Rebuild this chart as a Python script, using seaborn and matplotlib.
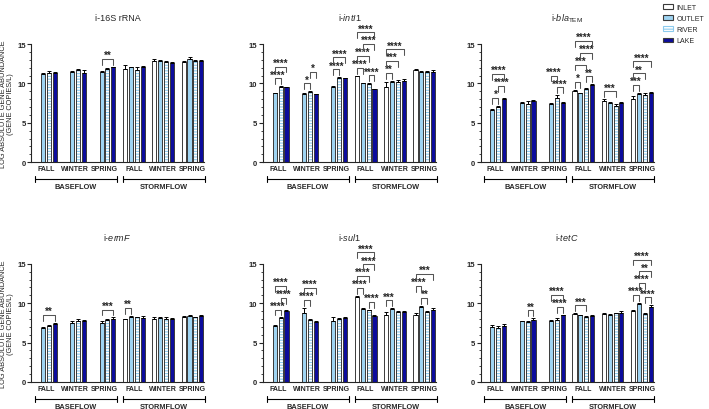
import numpy as np
import pandas as pd
import seaborn as sns
import matplotlib.pyplot as plt
from matplotlib.patches import Patch, Rectangle
from matplotlib.ticker import MultipleLocator
import matplotlib.transforms as mtrans

sns.set_style("ticks")
plt.rcParams['font.family'] = ['Liberation Sans', 'DejaVu Sans']
plt.rcParams['mathtext.fontset'] = 'custom'
plt.rcParams['mathtext.rm'] = 'Liberation Sans'
plt.rcParams['mathtext.it'] = 'Liberation Sans:italic'
plt.rcParams['hatch.linewidth'] = 0.8

flows = ["BASEFLOW", "STORMFLOW"]
seasons = ["FALL", "WINTER", "SPRING"]
sites = ["INLET", "OUTLET", "RIVER", "LAKE"]
nan = np.nan

titles = ["i-16S rRNA", r"i-$\mathit{intI}$1", r"i-$\mathit{bla}_{\mathrm{TEM}}$",
          r"i-$\mathit{ermF}$", r"i-$\mathit{sul}$1", r"i-$\mathit{tetC}$"]

# rows: BASEFLOW FALL, WINTER, SPRING, STORMFLOW FALL, WINTER, SPRING ; cols: INLET, OUTLET, RIVER, LAKE
v_16s = [[nan, 11.2, 11.3, 11.3], [nan, 11.5, 11.7, 11.3], [nan, 11.5, 11.8, 12.05],
         [11.8, 12.05, 11.7, 12.05], [12.8, 12.8, 12.7, 12.6], [12.75, 13.1, 12.85, 12.9]]
e_16s = [[0, .15, .25, .2], [0, .1, .1, .35], [0, .05, .2, .1],
         [.6, .1, .4, .15], [.25, .15, .1, .1], [.05, .2, .1, .1]]
v_int = [[nan, 8.75, 9.5, 9.5], [nan, 8.6, 8.9, 8.6], [nan, 9.6, 10.7, 10.65],
         [10.9, 10.05, 9.95, 9.25], [9.6, 10.15, 10.2, 10.35], [11.7, 11.5, 11.5, 11.4]]
e_int = [[0, .1, .15, .1], [0, .15, .1, .1], [0, .05, .1, .1],
         [.1, .05, .1, .1], [.6, .2, .3, .2], [.1, .05, .1, .3]]
v_bla = [[nan, 6.6, 7.05, 8.0], [nan, 7.5, 7.4, 7.75], [nan, 7.4, 8.2, 7.5],
         [9.1, 8.75, 9.3, 9.8], [7.8, 7.5, 7.2, 7.5], [8.0, 8.65, 8.55, 8.8]]
e_bla = [[0, .1, .15, .15], [0, .1, .4, .1], [0, .15, .3, .15],
         [.1, .1, .1, .1], [.2, .2, .25, .2], [.35, .15, .25, .1]]
v_erm = [[nan, 6.8, 7.05, 7.3], [nan, 7.55, 7.75, 7.7], [nan, 7.55, 7.85, 8.05],
         [7.95, 8.3, 8.2, 8.15], [8.05, 8.15, 8.0, 7.95], [8.2, 8.4, 8.2, 8.35]]
e_erm = [[0, .2, .15, .2], [0, .15, .2, .15], [0, .15, .15, .15],
         [.1, .1, .1, .2], [.25, .1, .25, .15], [.15, .1, .1, .1]]
v_sul = [[nan, 7.15, 8.1, 9.05], [nan, 8.75, 7.9, 7.65], [nan, 7.7, 8.05, 8.1],
         [10.85, 9.3, 9.1, 8.35], [8.55, 9.25, 8.9, 8.9], [8.55, 9.5, 8.9, 9.2]]
e_sul = [[0, .05, .1, .1], [0, .7, .1, .1], [0, .5, .1, .1],
         [.1, .1, .1, .1], [.3, .1, .15, .15], [.15, .2, .15, .2]]
v_tet = [[nan, 6.95, 6.85, 7.15], [nan, 7.7, 7.6, 7.9], [nan, 7.8, 7.9, 8.45],
         [8.65, 8.45, 8.25, 8.4], [8.65, 8.55, 8.7, 8.75], [8.95, 9.95, 8.65, 9.5]]
e_tet = [[0, .25, .3, .15], [0, .1, .1, .2], [0, .1, .25, .1],
         [.1, .1, .1, .1], [.1, .1, .1, .2], [.25, .1, .1, .25]]

# significance: (group index, site i, site j, label)
s_16s = [(2, 1, 3, "**")]
s_int = [(0, 1, 2, "****"), (0, 1, 3, "****"), (1, 1, 2, "*"), (1, 2, 3, "*"),
         (2, 1, 2, "****"), (2, 1, 3, "****"),
         (3, 2, 3, "****"), (3, 0, 1, "****"), (3, 0, 2, "****"), (3, 1, 3, "****"), (3, 0, 3, "****"),
         (4, 0, 1, "**"), (4, 0, 2, "***"), (4, 0, 3, "****")]
s_bla = [(0, 1, 2, "*"), (0, 2, 3, "****"), (0, 1, 3, "****"),
         (2, 2, 3, "****"), (2, 1, 2, "****"),
         (3, 0, 1, "*"), (3, 2, 3, "**"), (3, 0, 2, "***"), (3, 1, 3, "****"), (3, 0, 3, "****"),
         (4, 0, 2, "***"),
         (5, 0, 1, "***"), (5, 0, 2, "**"), (5, 0, 3, "****")]
s_erm = [(0, 1, 3, "**"), (2, 1, 3, "***"), (3, 0, 1, "**")]
s_sul = [(0, 1, 2, "****"), (0, 2, 3, "****"), (0, 1, 3, "****"),
         (1, 1, 2, "****"), (1, 1, 3, "****"),
         (3, 2, 3, "****"), (3, 0, 1, "****"), (3, 0, 2, "****"), (3, 1, 3, "****"), (3, 0, 3, "****"),
         (4, 0, 1, "***"),
         (5, 1, 2, "**"), (5, 0, 1, "****"), (5, 0, 3, "***")]
s_tet = [(1, 2, 3, "**"), (2, 2, 3, "****"), (2, 1, 3, "****"), (3, 0, 2, "***"),
         (5, 0, 1, "****"), (5, 2, 3, "****"), (5, 1, 2, "****"), (5, 1, 3, "**"), (5, 0, 3, "****")]

panels = [(v_16s, e_16s, s_16s), (v_int, e_int, s_int), (v_bla, e_bla, s_bla),
          (v_erm, e_erm, s_erm), (v_sul, e_sul, s_sul), (v_tet, e_tet, s_tet)]

colors = {"INLET": "#ffffff", "OUTLET": "#9fd4f2", "RIVER": "#ffffff", "LAKE": "#0c0c9c"}
edge = "#3a3a3a"
hatch_col = "#8ccbee"
keys = [f"{f} {s}" for f in flows for s in seasons]

fig = plt.figure(figsize=(7.09, 4.10), dpi=100)
lefts = [0.044, 0.371, 0.678]
bottoms = [0.602, 0.066]
W, H = 0.244, 0.288


def draw_panel(ax, vals, errs, sigs, title, first_col):
    rows = []
    for gi, key in enumerate(keys):
        for si, site in enumerate(sites):
            if not np.isnan(vals[gi][si]):
                rows.append({"group": key, "site": site, "value": vals[gi][si]})
    df = pd.DataFrame(rows)
    sns.barplot(data=df, x="group", y="value", hue="site", order=keys, hue_order=sites,
                palette=colors, errorbar=None, gap=0.3, width=0.8, saturation=1,
                edgecolor=edge, linewidth=0.7, legend=False, ax=ax)
    pos, tops = {}, {}
    for p in list(ax.patches):
        cx = p.get_x() + p.get_width() / 2
        g = int(round(cx))
        h = int(round((cx - g + 0.3) / 0.2))
        pos[(g, h)] = cx
        tops[(g, h)] = p.get_height() + errs[g][h]
        if sites[h] == "RIVER":
            p.set_hatch("------")
            p.set_edgecolor(hatch_col)
            p.set_linewidth(0)
            ax.add_patch(Rectangle((p.get_x(), p.get_y()), p.get_width(), p.get_height(),
                                   facecolor="none", edgecolor=edge, linewidth=0.7, zorder=p.get_zorder() + 0.1))
    xs = [pos[k] for k in pos]
    ys = [vals[k[0]][k[1]] for k in pos]
    es = [errs[k[0]][k[1]] for k in pos]
    ax.errorbar(xs, ys, yerr=[np.zeros(len(es)), es], fmt="none", ecolor="black",
                elinewidth=0.7, capsize=1.5, capthick=0.7, zorder=5)
    # significance brackets, stacked automatically
    placed = {}
    for g, i, j, lab in sigs:
        base = max(tops[(g, k)] for k in range(i, j + 1) if (g, k) in tops) + 1.0
        for (pi, pj, py) in placed.get(g, []):
            if pi <= j and i <= pj:
                base = max(base, py + 1.5)
        placed.setdefault(g, []).append((i, j, base))
        x0, x1 = pos[(g, i)], pos[(g, j)]
        ax.plot([x0, x0, x1, x1], [base - 0.75, base, base, base - 0.75], color="#555555",
                lw=0.75, clip_on=False, zorder=6)
        ax.text((x0 + x1) / 2, base - 0.15, lab, ha="center", va="bottom", fontsize=7,
                fontweight="bold", clip_on=False)
    ax.set_xlim(-0.5, 5.4)
    ax.set_ylim(0, 15)
    ax.set_yticks([0, 5, 10, 15])
    ax.yaxis.set_minor_locator(MultipleLocator(1))
    ax.tick_params(axis="y", which="major", length=3, width=0.8, labelsize=5.5, pad=1)
    ax.tick_params(axis="y", which="minor", length=1.5, width=0.6)
    for t in ax.get_yticklabels():
        t.set_fontweight("bold")
    ax.set_xticks(range(6))
    ax.set_xticklabels(seasons * 2, fontsize=5, fontweight="bold")
    ax.tick_params(axis="x", length=0, pad=2)
    ax.set_xlabel("")
    if first_col:
        ax.set_ylabel("LOG ABSOLUTE GENE ABUNDANCE\n(GENE COPIES/L)", fontsize=5.3,
                      labelpad=2, linespacing=1.0)
    else:
        ax.set_ylabel("")
    ax.set_title(title, fontsize=6.5, pad=17)
    sns.despine(ax=ax)
    for s in ["left", "bottom"]:
        ax.spines[s].set_linewidth(0.8)
    trans = mtrans.blended_transform_factory(ax.transData, ax.transAxes)
    for k, f in enumerate(flows):
        x0, x1 = 3 * k - 0.38, 3 * k + 2 + 0.42
        ax.plot([x0, x1], [-0.145, -0.145], color="black", lw=0.8, transform=trans, clip_on=False)
        for xx in (x0, x1):
            ax.plot([xx, xx], [-0.12, -0.17], color="black", lw=0.8, transform=trans, clip_on=False)
        ax.text((x0 + x1) / 2, -0.205, f, ha="center", va="center", fontsize=5.3,
                fontweight="bold", transform=trans)


for n, (vals, errs, sigs) in enumerate(panels):
    r, c = divmod(n, 3)
    ax = fig.add_axes([lefts[c], bottoms[r], W, H])
    draw_panel(ax, vals, errs, sigs, titles[n], c == 0)

handles = [Patch(facecolor=colors["INLET"], edgecolor=edge, linewidth=0.8),
           Patch(facecolor=colors["OUTLET"], edgecolor=edge, linewidth=0.8),
           Patch(facecolor="white", edgecolor=hatch_col, hatch="------", linewidth=0.8),
           Patch(facecolor=colors["LAKE"], edgecolor=edge, linewidth=0.8)]
fig.legend(handles, sites, loc="upper right", bbox_to_anchor=(1.0, 1.0), frameon=False,
           fontsize=5, handlelength=1.4, handleheight=0.7, labelspacing=0.6,
           handletextpad=0.5, borderaxespad=0.3)

fig.savefig("out.png", dpi=100)
